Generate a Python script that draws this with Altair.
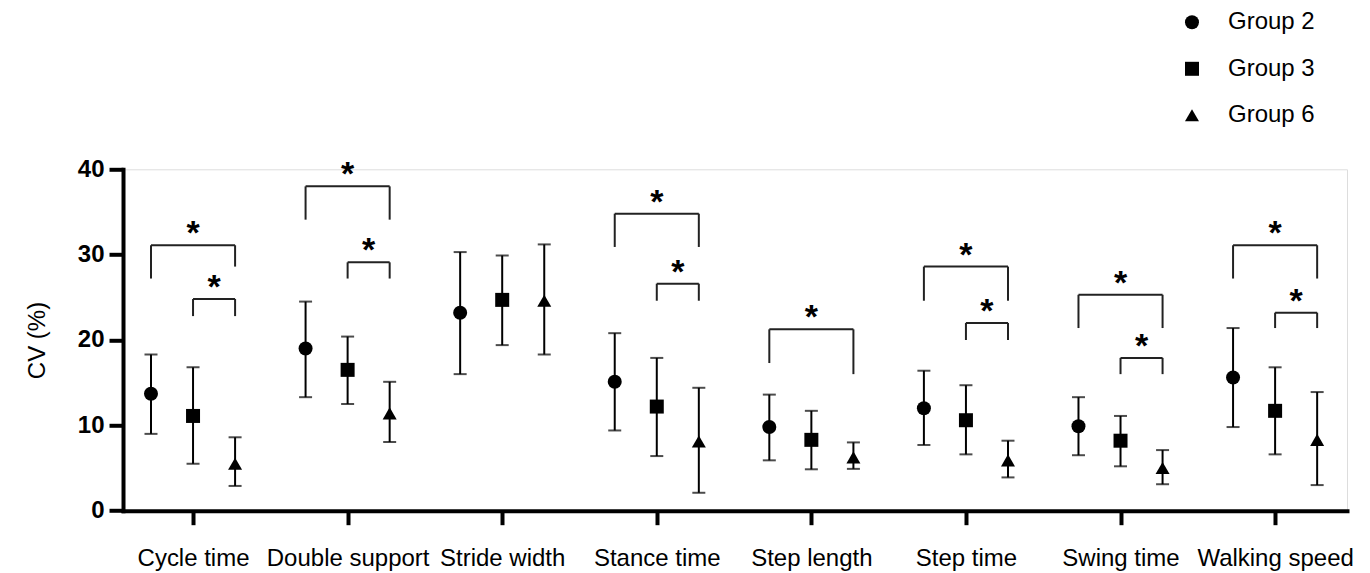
import altair as alt
import pandas as pd

categories = ["Cycle time", "Double support", "Stride width", "Stance time",
              "Step length", "Step time", "Swing time", "Walking speed"]
groups = ["Group 2", "Group 3", "Group 6"]
shapes = ["circle", "square", "triangle-up"]

g2_mean = [13.7, 19.0, 23.2, 15.1, 9.8, 12.0, 9.9, 15.6]
g2_low = [9.0, 13.3, 16.0, 9.4, 5.9, 7.7, 6.5, 9.8]
g2_high = [18.3, 24.5, 30.3, 20.8, 13.6, 16.4, 13.3, 21.4]

g3_mean = [11.1, 16.5, 24.7, 12.2, 8.3, 10.6, 8.2, 11.7]
g3_low = [5.5, 12.5, 19.4, 6.4, 4.85, 6.6, 5.2, 6.6]
g3_high = [16.8, 20.4, 29.9, 17.9, 11.7, 14.7, 11.1, 16.8]

g6_mean = [5.5, 11.4, 24.6, 8.1, 6.25, 5.9, 5.0, 8.3]
g6_low = [2.9, 8.05, 18.3, 2.1, 4.9, 3.9, 3.1, 3.0]
g6_high = [8.6, 15.1, 31.2, 14.4, 8.0, 8.2, 7.1, 13.9]

# significance brackets: category index, from group, to group, top, left leg end, right leg end
br_cat = [0, 0, 1, 1, 3, 3, 4, 5, 5, 6, 6, 7, 7]
br_from = [0, 1, 0, 1, 0, 1, 0, 0, 1, 0, 1, 0, 1]
br_to = [2, 2, 2, 2, 2, 2, 2, 2, 2, 2, 2, 2, 2]
br_top = [31.1, 24.8, 38.0, 29.1, 34.8, 26.6, 21.25, 28.6, 22.0, 25.3, 17.9, 31.1, 23.2]
br_left = [27.2, 22.8, 34.1, 27.2, 30.9, 24.6, 17.3, 24.6, 20.0, 21.4, 16.0, 27.2, 21.4]
br_right = [28.6, 22.8, 34.1, 27.2, 30.9, 24.6, 16.0, 24.6, 20.0, 21.4, 16.0, 27.2, 21.4]
br_label = ["*"] * 13

OFFSET = 0.272
FONT = "Liberation Sans, Arial, Helvetica, sans-serif"

rows = []
for gi, (g, m, lo, hi) in enumerate(zip(groups, [g2_mean, g3_mean, g6_mean],
                                        [g2_low, g3_low, g6_low],
                                        [g2_high, g3_high, g6_high])):
    for ci, c in enumerate(categories):
        rows.append(dict(category=c, group=g, pos=ci + (gi - 1) * OFFSET,
                         mean=m[ci], low=lo[ci], high=hi[ci]))
df = pd.DataFrame(rows)

br = pd.DataFrame(dict(cat=br_cat, g_from=br_from, g_to=br_to, top=br_top,
                       left_end=br_left, right_end=br_right, label=br_label))
br["x1"] = br["cat"] + (br["g_from"] - 1) * OFFSET
br["x2"] = br["cat"] + (br["g_to"] - 1) * OFFSET
br["xm"] = (br["x1"] + br["x2"]) / 2

xscale = alt.Scale(domain=[-0.453, 7.465], nice=False, zero=False)
yscale = alt.Scale(domain=[0, 40], nice=False, zero=True)

label_expr = "[" + ",".join("'" + c + "'" for c in categories) + "][round(datum.value)]"

x_axis = alt.Axis(values=list(range(len(categories))), labelExpr=label_expr,
                  labelFontSize=24, labelFont=FONT, labelColor="black",
                  labelPadding=22, tickSize=14, tickWidth=4, tickColor="black",
                  domainWidth=4, domainColor="black", domainCap="square",
                  grid=False, title=None, labelFlush=False, labelOverlap=False)
y_axis = alt.Axis(values=[0, 10, 20, 30, 40], labelFontSize=24, labelFont=FONT,
                  labelFontWeight="bold", labelColor="black", labelPadding=5,
                  tickSize=14, tickWidth=4, tickColor="black",
                  domainWidth=4, domainColor="black", domainCap="square",
                  grid=False, title="CV (%)", titleFont=FONT, titleFontSize=24,
                  titleFontWeight="normal", titleColor="black",
                  titleX=-86, titleY=170.7, titleAngle=-90,
                  titleAlign="center", titleBaseline="middle")

base = alt.Chart(df)

whisk = base.mark_rule(color="black", strokeWidth=2).encode(
    x=alt.X("pos:Q", scale=xscale, axis=x_axis),
    y=alt.Y("low:Q", scale=yscale, axis=y_axis),
    y2="high:Q",
)
cap_lo = base.mark_tick(orient="horizontal", color="black", size=13, thickness=2).encode(
    x=alt.X("pos:Q", scale=xscale), y=alt.Y("low:Q", scale=yscale))
cap_hi = base.mark_tick(orient="horizontal", color="black", size=13, thickness=2).encode(
    x=alt.X("pos:Q", scale=xscale), y=alt.Y("high:Q", scale=yscale))

points = base.mark_point(filled=True, opacity=1, color="black", size=196).encode(
    x=alt.X("pos:Q", scale=xscale),
    y=alt.Y("mean:Q", scale=yscale),
    shape=alt.Shape("group:N", scale=alt.Scale(domain=groups, range=shapes),
                    legend=alt.Legend(title=None, orient="none", legendX=1057,
                                      legendY=-159, labelFontSize=24, labelFont=FONT,
                                      labelColor="black", symbolSize=196,
                                      symbolFillColor="black", symbolStrokeColor="black",
                                      symbolStrokeWidth=0, rowPadding=22.5,
                                      labelOffset=24, padding=0)),
)

bchart = alt.Chart(br)
br_h = bchart.mark_rule(color="#222222", strokeWidth=2).encode(
    x=alt.X("x1:Q", scale=xscale), x2="x2:Q", y=alt.Y("top:Q", scale=yscale))
br_l = bchart.mark_rule(color="#222222", strokeWidth=2).encode(
    x=alt.X("x1:Q", scale=xscale), y=alt.Y("top:Q", scale=yscale), y2="left_end:Q")
br_r = bchart.mark_rule(color="#222222", strokeWidth=2).encode(
    x=alt.X("x2:Q", scale=xscale), y=alt.Y("top:Q", scale=yscale), y2="right_end:Q")
stars = bchart.mark_text(font=FONT, fontSize=34, fontWeight="bold", color="black",
                         baseline="alphabetic", dy=-1).encode(
    x=alt.X("xm:Q", scale=xscale), y=alt.Y("top:Q", scale=yscale), text="label:N")

chart = alt.layer(whisk, cap_lo, cap_hi, br_h, br_l, br_r, stars, points).properties(
    width=1224, height=341.4,
    autosize=alt.AutoSizeParams(type="none"),
    padding={"left": 115, "top": 161.3, "right": 15, "bottom": 63},
).configure_view(stroke=None).configure(background="white")

chart.save("out.html", embed_options={"renderer": "svg", "actions": False})
